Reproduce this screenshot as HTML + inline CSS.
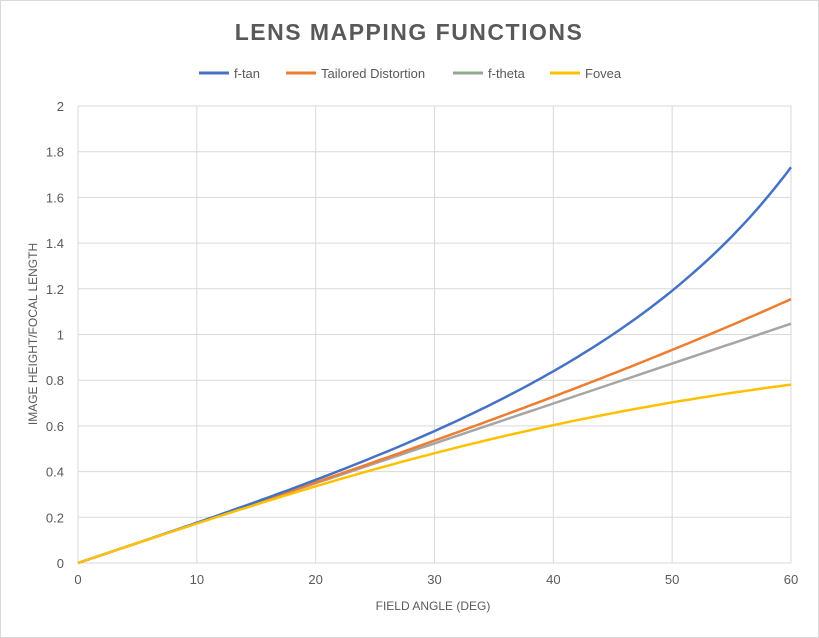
<!DOCTYPE html>
<html><head><meta charset="utf-8"><style>
body{margin:0;background:#fff;}
svg{display:block;font-family:"Liberation Sans",sans-serif;}
</style></head><body>
<svg id="c" width="819" height="638" viewBox="0 0 819 638" xmlns="http://www.w3.org/2000/svg">
<rect x="0.5" y="0.5" width="818" height="637" fill="#fff" stroke="#d9d9d9"/>
<text x="409" y="40" text-anchor="middle" font-size="23" font-weight="bold" fill="#595959" letter-spacing="1.5">LENS MAPPING FUNCTIONS</text>
<g font-size="13" fill="#595959">
<line x1="199" y1="73" x2="229" y2="73" stroke="#4472c4" stroke-width="3"/><text x="234" y="78">f-tan</text>
<line x1="286" y1="73" x2="316" y2="73" stroke="#ed7d31" stroke-width="3"/><text x="321" y="78">Tailored Distortion</text>
<line x1="453" y1="73" x2="483" y2="73" stroke="#8faa8c" stroke-width="3"/><text x="488" y="78">f-theta</text>
<line x1="550" y1="73" x2="580" y2="73" stroke="#ffc000" stroke-width="3"/><text x="585" y="78">Fovea</text>
</g>
<g id="grid" stroke="#d9d9d9" stroke-width="1"></g>
<g id="lab" font-size="13" fill="#595959"></g>
<text x="433" y="610" text-anchor="middle" font-size="12" fill="#595959">FIELD ANGLE (DEG)</text>
<text transform="translate(37,334) rotate(-90)" text-anchor="middle" font-size="12" fill="#595959">IMAGE HEIGHT/FOCAL LENGTH</text>
<g id="lines" fill="none" stroke-width="2.5"></g>
</svg>
<script>
var X0=78,X1=791,Y0=563,Y1=106;
function px(d){return X0+(X1-X0)*d/60}function py(v){return Y0-(Y0-Y1)*v/2}
var g=document.getElementById('grid'),l=document.getElementById('lab'),h='',t='';
for(var i=0;i<=10;i++){var y=py(i*0.2);h+='<line x1="'+X0+'" x2="'+X1+'" y1="'+y+'" y2="'+y+'"/>';
t+='<text x="64" y="'+(y+5)+'" text-anchor="end">'+(i==0?'0':(Math.round(i*2)/10).toString())+'</text>';}
for(var j=0;j<=6;j++){var x=px(j*10);h+='<line x1="'+x+'" x2="'+x+'" y1="'+Y1+'" y2="'+Y0+'"/>';
t+='<text x="'+x+'" y="584" text-anchor="middle">'+(j*10)+'</text>';}
g.innerHTML=h;l.innerHTML=t;
var fs=[[function(r){return r},'#a5a5a5'],[function(r){return 2*Math.tan(r/2)},'#ed7d31'],[function(r){return Math.tan(r)},'#4472c4'],[function(r){return Math.tanh(r)},'#ffc000']];
var s='';fs.forEach(function(f){var d='';for(var k=0;k<=120;k++){var deg=k/2,r=deg*Math.PI/180;d+=(k?'L':'M')+px(deg).toFixed(1)+','+py(f[0](r)).toFixed(1);}
s+='<path d="'+d+'" stroke="'+f[1]+'"/>';});
document.getElementById('lines').innerHTML=s;
</script>
</body></html>
